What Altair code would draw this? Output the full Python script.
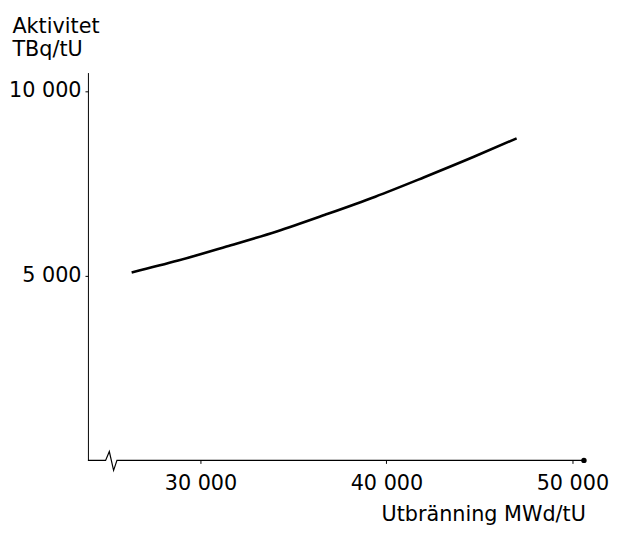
import altair as alt
import pandas as pd

# Curve: activity vs burnup
burnup = [26300, 28800, 31400, 34100, 36700, 39400, 42000, 44700, 47000]
activity = [5090, 5410, 5790, 6200, 6650, 7140, 7660, 8220, 8720]

# x-axis baseline with break symbol (data units)
axis_x = [23950, 24900, 25100, 25330, 25510, 50640]
axis_y = [0, 0, 240, -270, 0, 0]

# end blob on the axis
blob_x = [50620]
blob_y = [0]

x_ticks = [30000, 40000, 50000]
y_ticks = [5000, 10000]
x_domain = [23950, 50640]
y_domain = [0, 10500]

FONT = "DejaVu Sans"
FS = 21

curve_df = pd.DataFrame({"x": burnup, "y": activity})
axis_df = pd.DataFrame({"x": axis_x, "y": axis_y, "o": list(range(len(axis_x)))})
blob_df = pd.DataFrame({"x": blob_x, "y": blob_y})

xs = alt.Scale(domain=x_domain, nice=False, zero=False)
ys = alt.Scale(domain=y_domain, nice=False, zero=False)

label_expr = "replace(format(datum.value, ','), ',', ' ')"

x_axis = alt.Axis(
    values=x_ticks, domain=False, grid=False, tickSize=3, tickColor="black",
    labelExpr=label_expr, labelFont=FONT, labelFontSize=FS, labelColor="black",
    labelPadding=9,
    titleFont=FONT, titleFontSize=FS,
    titleFontWeight="normal", titleColor="black", titleAlign="right",
    titleX=504, titleY=61, titleBaseline="alphabetic",
)
y_axis = alt.Axis(
    values=y_ticks, domain=True, domainColor="black", domainWidth=1,
    grid=False, tickSize=3, tickColor="black",
    labelExpr=label_expr, labelFont=FONT, labelFontSize=FS, labelColor="black",
    labelPadding=4,
    titleFont=FONT, titleFontSize=FS,
    titleFontWeight="normal", titleColor="black", titleAngle=0,
    titleAlign="left", titleX=-77, titleY=-41, titleBaseline="alphabetic",
    titleLineHeight=24,
)

X_TITLE = "Utbränning MWd/tU"
Y_TITLE = ["Aktivitet", "TBq/tU"]

curve = alt.Chart(curve_df).mark_line(
    color="black", strokeWidth=2.6, interpolate="monotone"
).encode(
    x=alt.X("x:Q", scale=xs, axis=x_axis, title=X_TITLE),
    y=alt.Y("y:Q", scale=ys, axis=y_axis, title=Y_TITLE),
)

baseline = alt.Chart(axis_df).mark_line(color="black", strokeWidth=1.2).encode(
    x=alt.X("x:Q", scale=xs, axis=x_axis, title=X_TITLE),
    y=alt.Y("y:Q", scale=ys, axis=y_axis, title=Y_TITLE),
    order="o:O",
)

blob = alt.Chart(blob_df).mark_point(filled=True, color="black", size=30, opacity=1).encode(
    x=alt.X("x:Q", scale=xs, axis=x_axis, title=X_TITLE),
    y=alt.Y("y:Q", scale=ys, axis=y_axis, title=Y_TITLE),
)

chart = alt.layer(curve, baseline, blob).properties(
    width=503, height=393,
    autosize=alt.AutoSizeParams(type="none"),
    padding={"left": 81, "top": 62, "right": 25, "bottom": 62},
    background="white",
).configure_view(stroke=None)

chart.save("out.html", embed_options={"renderer": "svg", "actions": False})
